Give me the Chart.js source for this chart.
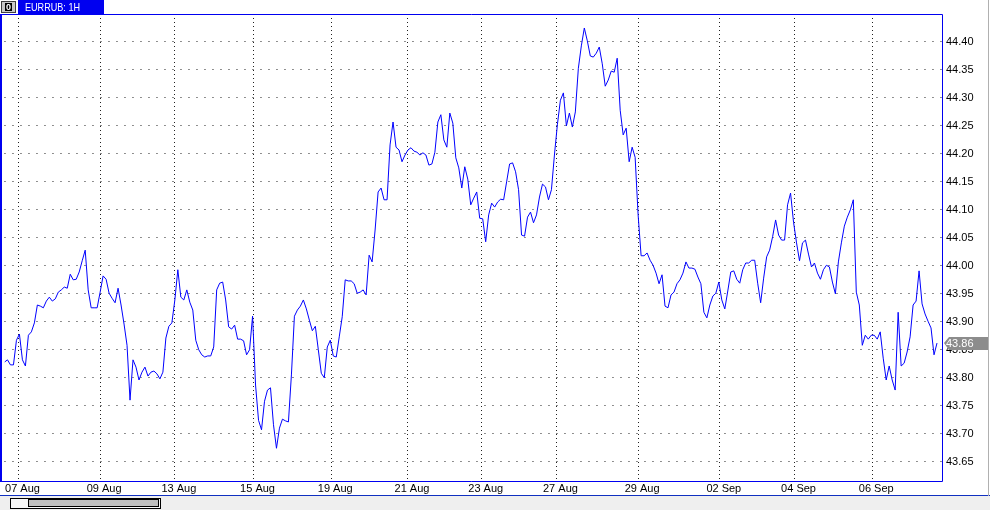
<!DOCTYPE html>
<html>
<head>
<meta charset="utf-8">
<script src="https://cdn.jsdelivr.net/npm/chart.js@4"></script>
<style>
  html, body { margin: 0; padding: 0; background: #fff; }
  canvas { display: block; }
</style>
</head>
<body>
<canvas id="chart" width="990" height="510"></canvas>
<script>
const symbol = 'EURRUB: 1H';

// one value roughly every 3 hourly bars
const prices = [
  43.828, 43.832, 43.823, 43.823, 43.867, 43.878, 43.832, 43.821, 43.876, 43.882,
  43.898, 43.930, 43.928, 43.925, 43.937, 43.944, 43.937, 43.941, 43.953, 43.957,
  43.962, 43.960, 43.985, 43.975, 43.976, 43.989, 44.009, 44.028, 43.957, 43.925,
  43.925, 43.925, 43.953, 43.982, 43.976, 43.951, 43.942, 43.934, 43.960, 43.930,
  43.896, 43.858, 43.760, 43.832, 43.819, 43.796, 43.810, 43.819, 43.803, 43.810,
  43.812, 43.807, 43.798, 43.810, 43.871, 43.892, 43.898, 43.939, 43.993, 43.944,
  43.939, 43.957, 43.935, 43.921, 43.867, 43.850, 43.841, 43.837, 43.839, 43.839,
  43.855, 43.957, 43.969, 43.971, 43.939, 43.891, 43.887, 43.894, 43.869, 43.869,
  43.866, 43.841, 43.850, 43.910, 43.787, 43.724, 43.707, 43.758, 43.778, 43.782,
  43.716, 43.674, 43.710, 43.726, 43.723, 43.721, 43.805, 43.910, 43.921, 43.928,
  43.939, 43.923, 43.903, 43.884, 43.892, 43.850, 43.808, 43.800, 43.855, 43.867,
  43.839, 43.837, 43.873, 43.909, 43.975, 43.973, 43.973, 43.968, 43.951, 43.953,
  43.957, 43.948, 44.019, 44.007, 44.064, 44.132, 44.139, 44.118, 44.118, 44.216,
  44.257, 44.212, 44.207, 44.186, 44.198, 44.207, 44.211, 44.205, 44.203, 44.198,
  44.202, 44.198, 44.180, 44.182, 44.203, 44.257, 44.270, 44.225, 44.212, 44.273,
  44.255, 44.193, 44.175, 44.139, 44.177, 44.155, 44.109, 44.121, 44.132, 44.085,
  44.084, 44.043, 44.091, 44.112, 44.105, 44.114, 44.119, 44.118, 44.150, 44.182,
  44.184, 44.168, 44.136, 44.055, 44.053, 44.087, 44.096, 44.077, 44.091, 44.123,
  44.146, 44.141, 44.118, 44.136, 44.198, 44.253, 44.296, 44.309, 44.250, 44.273,
  44.248, 44.275, 44.353, 44.393, 44.425, 44.402, 44.375, 44.373, 44.380, 44.391,
  44.361, 44.321, 44.332, 44.348, 44.346, 44.371, 44.278, 44.234, 44.246, 44.186,
  44.212, 44.194, 44.091, 44.018, 44.018, 44.023, 44.010, 44.001, 43.987, 43.968,
  43.984, 43.928, 43.925, 43.948, 43.953, 43.968, 43.975, 43.987, 44.007, 43.996,
  43.996, 43.994, 43.980, 43.968, 43.917, 43.907, 43.930, 43.946, 43.951, 43.971,
  43.939, 43.923, 43.955, 43.989, 43.991, 43.976, 43.969, 43.993, 44.005, 44.005,
  44.010, 44.010, 43.969, 43.934, 43.978, 44.016, 44.028, 44.052, 44.082, 44.055,
  44.046, 44.046, 44.109, 44.130, 44.078, 44.041, 44.009, 44.041, 44.046, 44.021,
  43.998, 44.005, 43.987, 43.976, 43.993, 44.001, 43.998, 43.971, 43.950, 44.007,
  44.041, 44.071, 44.087, 44.100, 44.118, 43.953, 43.930, 43.858, 43.876, 43.869,
  43.876, 43.876, 43.869, 43.882, 43.835, 43.796, 43.821, 43.796, 43.778, 43.917,
  43.821, 43.826, 43.846, 43.873, 43.930, 43.937, 43.991, 43.932, 43.914, 43.901,
  43.889, 43.841, 43.862
];

// where each labelled trading day starts, in sample steps
const dayStarts = [4.67, 32, 57, 83.33, 109.33, 135, 159.67, 184.67, 212, 239.33, 264.33, 290.33];
const dayLabels = ['07 Aug', '09 Aug', '13 Aug', '15 Aug', '19 Aug', '21 Aug', '23 Aug', '27 Aug', '29 Aug', '02 Sep', '04 Sep', '06 Sep'];

const priceTicks = [43.65, 43.70, 43.75, 43.80, 43.85, 43.90, 43.95, 44.00, 44.05, 44.10, 44.15, 44.20, 44.25, 44.30, 44.35, 44.40];

const FONT = 'Liberation Sans';
const BLUE = '#0000f0';

const terminalFrame = {
  id: 'terminalFrame',
  afterDraw(chart) {
    const ctx = chart.ctx;
    const area = chart.chartArea;
    const W = chart.width, H = chart.height;
    ctx.save();

    // plot frame
    ctx.strokeStyle = BLUE;
    ctx.lineWidth = 1;
    ctx.beginPath();
    ctx.moveTo(0, area.top + 0.5);
    ctx.lineTo(area.right + 0.5, area.top + 0.5);
    ctx.lineTo(area.right + 0.5, area.bottom + 0.5);
    ctx.lineTo(0, area.bottom + 0.5);
    ctx.stroke();
    ctx.lineWidth = 2;
    ctx.beginPath();
    ctx.moveTo(1, area.top);
    ctx.lineTo(1, area.bottom);
    ctx.stroke();

    // header: icon + symbol tab
    ctx.fillStyle = '#c8c8c8';
    ctx.fillRect(1, 1, 15, 12);
    ctx.strokeStyle = '#404040';
    ctx.lineWidth = 1;
    ctx.strokeRect(1.5, 1.5, 14, 11);
    ctx.fillStyle = '#000';
    ctx.fillRect(5, 3, 7, 8);
    ctx.fillStyle = '#fff';
    ctx.font = 'bold 9px ' + FONT;
    ctx.textAlign = 'center';
    ctx.textBaseline = 'middle';
    ctx.fillText('0', 8.5, 7.5);
    ctx.fillStyle = BLUE;
    ctx.fillRect(18, 0, 86, 14);
    ctx.fillStyle = '#fff';
    ctx.font = '11px ' + FONT;
    ctx.textAlign = 'left';
    ctx.fillText(symbol, 25, 7.5, 55);

    // last price tag
    const last = prices[prices.length - 1];
    const y = Math.round(chart.scales.y.getPixelForValue(last));
    ctx.fillStyle = '#8c8c8c';
    ctx.beginPath();
    ctx.moveTo(area.right + 2, y);
    ctx.lineTo(area.right + 7, y - 6);
    ctx.lineTo(988, y - 6);
    ctx.lineTo(988, y + 7);
    ctx.lineTo(area.right + 7, y + 7);
    ctx.closePath();
    ctx.fill();
    ctx.fillStyle = '#fff';
    ctx.font = '11px ' + FONT;
    ctx.fillText(last.toFixed(2), 946, y + 1);

    // bottom scroll strip
    ctx.fillStyle = '#efefef';
    ctx.fillRect(0, 496, W, H - 496);
    ctx.strokeStyle = '#1030c0';
    ctx.beginPath();
    ctx.moveTo(0, 495.5);
    ctx.lineTo(W, 495.5);
    ctx.stroke();
    ctx.fillStyle = '#f8f8f8';
    ctx.fillRect(10, 498, 150, 10);
    ctx.strokeStyle = '#000';
    ctx.strokeRect(10.5, 498.5, 150, 10);
    ctx.fillStyle = '#c0c0c0';
    ctx.fillRect(28, 500, 130, 7);
    ctx.strokeRect(28.5, 499.5, 130, 7);

    // window edge on the right
    ctx.strokeStyle = '#b0b0b0';
    ctx.beginPath();
    ctx.moveTo(W - 1.5, 0);
    ctx.lineTo(W - 1.5, 496);
    ctx.stroke();
    ctx.restore();
  }
};

new Chart(document.getElementById('chart'), {
  type: 'line',
  data: {
    datasets: [{
      data: prices.map((v, i) => ({ x: i, y: v })),
      borderColor: '#0000ff',
      borderWidth: 1,
      pointRadius: 0,
      tension: 0
    }]
  },
  options: {
    responsive: false,
    animation: false,
    devicePixelRatio: 1,
    layout: { padding: { top: 14, left: 1, right: 0, bottom: 0 } },
    plugins: { legend: { display: false }, tooltip: { enabled: false } },
    scales: {
      x: {
        type: 'linear',
        min: 0,
        max: 313.67,
        afterBuildTicks: s => { s.ticks = dayStarts.map(v => ({ value: v })); },
        afterFit: s => { s.height = 29; },
        grid: { color: '#202020', drawTicks: false },
        border: { display: false, dash: [1, 3] },
        ticks: {
          autoSkip: false,
          maxRotation: 0,
          padding: 1,
          labelOffset: 4,
          color: '#000',
          font: { family: FONT, size: 11 },
          callback: (v, i) => dayLabels[i]
        }
      },
      y: {
        position: 'right',
        min: 43.6155,
        max: 44.450,
        afterBuildTicks: s => { s.ticks = priceTicks.map(v => ({ value: v })); },
        afterFit: s => { s.width = 48; },
        grid: { color: '#202020', drawTicks: false },
        border: { display: false, dash: [1, 7] },
        ticks: {
          padding: 4,
          color: '#000',
          font: { family: FONT, size: 11 },
          callback: v => v.toFixed(2)
        }
      }
    }
  },
  plugins: [terminalFrame]
});
</script>
</body>
</html>
